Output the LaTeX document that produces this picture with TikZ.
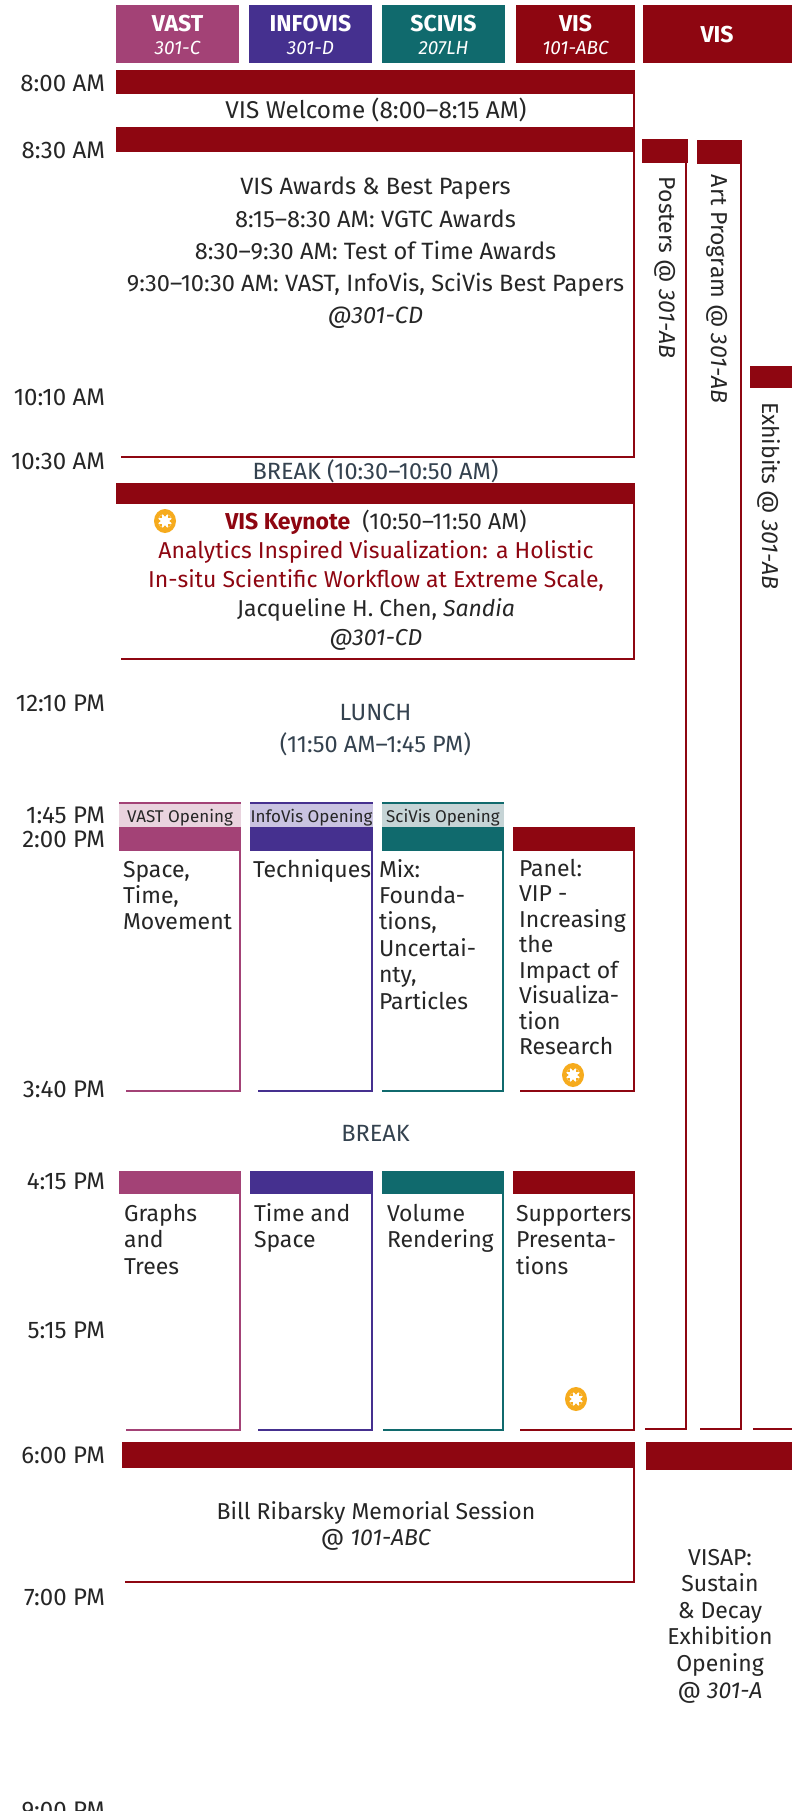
\documentclass[tikz,border=0pt]{standalone}
\usepackage{fontspec}
\setmainfont{Fira Sans}
\definecolor{vastc}{HTML}{A34276}
\definecolor{infoc}{HTML}{45308F}
\definecolor{scic}{HTML}{106A6D}
\definecolor{visc}{HTML}{8E0611}
\definecolor{vastl}{HTML}{E9D3DE}
\definecolor{infol}{HTML}{C9C3E1}
\definecolor{scil}{HTML}{C6D4D6}
\definecolor{txtc}{HTML}{262626}
\definecolor{brkc}{HTML}{34424F}
\definecolor{sunc}{HTML}{F6AB1D}
\begin{document}
\begin{tikzpicture}[x=1pt,y=-1pt,
  every node/.style={inner sep=0pt, outer sep=0pt, text=txtc},
  tlabel/.style={anchor=base east, font=\fontsize{24}{26}\selectfont},
  hdr/.style={anchor=base, text=white, font=\fontsize{23}{26}\selectfont\bfseries},
  hdrroom/.style={anchor=base, text=white, font=\fontsize{19}{22}\selectfont\itshape},
  body/.style={anchor=base, align=center, font=\fontsize{23.6}{32}\selectfont},
  sess/.style={anchor=base west, align=left, font=\fontsize{23}{26}\selectfont},
  brk/.style={anchor=base, align=center, text=brkc, font=\fontsize{23.5}{32}\selectfont},
  opening/.style={anchor=base, font=\fontsize{17}{20}\selectfont},
  vert/.style={anchor=west, rotate=-90, font=\fontsize{23}{26}\selectfont},
  edge/.style={line width=2.5pt},
  sun/.pic={
    \fill[sunc] (0,0) ellipse [x radius=11, y radius=12];
    \fill[white] (0,0) circle (7);
    \foreach \a in {0,45,...,315}
      \fill[sunc] (\a-17:7.2) -- (\a:4.3) -- (\a+17:7.2) -- cycle;
  }
]
\useasboundingbox (0,0) rectangle (792,1811);
\fill[white] (0,0) rectangle (792,1811);

% ---------- header ----------
\fill[vastc] (116,5) rectangle (239,63);
\fill[infoc] (249,5) rectangle (372,63);
\fill[scic]  (382,5) rectangle (505,63);
\fill[visc]  (516,5) rectangle (635,63);
\fill[visc]  (643,5) rectangle (792,63);
\node[hdr] (hvast) at (177.5,32) {VAST};
\node[hdrroom] (rvast) at (177.5,55) {301-C};
\node[hdr] (hinfo) at (310.5,32) {INFOVIS};
\node[hdrroom] (rinfo) at (310.5,55) {301-D};
\node[hdr] (hsci) at (443.5,32) {SCIVIS};
\node[hdrroom] (rsci) at (443.5,55) {207LH};
\node[hdr] (hvis) at (575.5,32) {VIS};
\node[hdrroom] (rvis) at (575.5,55) {101-ABC};
\node[hdr] (hvis2) at (717,43) {VIS};

% ---------- time labels ----------
\node[tlabel] (t800) at (105,92) {8:00 AM};
\node[tlabel] (t830) at (105,159) {8:30 AM};
\node[tlabel] (t1010) at (105,405) {10:10 AM};
\node[tlabel] (t1030) at (105,469) {10:30 AM};
\node[tlabel] (t1210) at (105,711) {12:10 PM};
\node[tlabel] (t145) at (105,823) {1:45 PM};
\node[tlabel] (t200) at (105,847) {2:00 PM};
\node[tlabel] (t340) at (105,1097) {3:40 PM};
\node[tlabel] (t415) at (105,1189) {4:15 PM};
\node[tlabel] (t515) at (105,1338) {5:15 PM};
\node[tlabel] (t600) at (105,1463) {6:00 PM};
\node[tlabel] (t700) at (105,1605) {7:00 PM};
\node[tlabel] (t900) at (105,1818) {9:00 PM};

% ---------- welcome ----------
\fill[visc] (116,70) rectangle (635,94);
\draw[edge, visc] (634,94) -- (634,127);
\node[body, font=\fontsize{24.3}{32}\selectfont] (welcome) at (376,119) {VIS Welcome (8:00–8:15 AM)};

% ---------- awards ----------
\fill[visc] (116,127) rectangle (635,152);
\draw[edge, visc] (634,152) -- (634,457) -- (121,457);
\node[body] (awards) at (375.5,323) {VIS Awards \& Best Papers\\
  8:15–8:30 AM: VGTC Awards\\
  8:30–9:30 AM: Test of Time Awards\\
  9:30–10:30 AM: VAST, InfoVis, SciVis Best Papers\\
  \textit{@301-CD}};

\node[brk] (break1) at (375.5,479) {BREAK (10:30–10:50 AM)};

% ---------- keynote ----------
\fill[visc] (116,483) rectangle (635,504);
\draw[edge, visc] (634,504) -- (634,659) -- (121,659);
\pic at (165,521) {sun};
\node[body, font=\fontsize{23}{29}\selectfont] (keynote) at (376,645)
  {\textcolor{visc}{\bfseries VIS Keynote}\hspace{6pt} (10:50–11:50 AM)\\
   \textcolor{visc}{Analytics Inspired Visualization: a Holistic}\\
   \textcolor{visc}{In-situ Scientific Workflow at Extreme Scale,}\\
   Jacqueline H. Chen, \textit{Sandia}\\
   \textit{@301-CD}};

% ---------- lunch ----------
\node[brk] (lunch) at (375.5,752) {LUNCH\\(11:50 AM–1:45 PM)};

% ---------- openings ----------
\fill[vastl] (119,803) rectangle (241,827);
\fill[infol] (250,803) rectangle (373,827);
\fill[scil]  (382,803) rectangle (504,827);
\draw[vastc, line width=2pt] (119,803) -- (241,803);
\draw[infoc, line width=2pt] (250,803) -- (373,803);
\draw[scic, line width=2pt]  (382,803) -- (504,803);
\node[opening] (ovast) at (180,822) {VAST Opening};
\node[opening] (oinfo) at (311.5,822) {InfoVis Opening};
\node[opening] (osci) at (443,822) {SciVis Opening};

% ---------- 2:00 sessions ----------
\fill[vastc] (119,827) rectangle (241,851);
\fill[infoc] (250,827) rectangle (373,851);
\fill[scic]  (382,827) rectangle (504,851);
\fill[visc]  (513,827) rectangle (635,851);
\draw[edge, vastc] (240,851) -- (240,1091) -- (126,1091);
\draw[edge, infoc] (372,851) -- (372,1091) -- (258,1091);
\draw[edge, scic]  (503,851) -- (503,1091) -- (382,1091);
\draw[edge, visc]  (634,851) -- (634,1091) -- (520,1091);
\node[sess] (s1) at (123,929) {Space,\\Time,\\Movement};
\node[sess] (s2) at (253,877) {Techniques};
\node[sess, font=\fontsize{23}{26.4}\selectfont] (s3) at (379,1009) {Mix:\\Founda-\\tions,\\Uncertai-\\nty,\\Particles};
\node[sess, font=\fontsize{23}{25.5}\selectfont] (s4) at (519,1054.5) {Panel:\\VIP -\\Increasing\\the\\Impact of\\Visualiza-\\tion\\Research};
\pic at (573,1075) {sun};

\node[brk] (break2) at (375.5,1141) {BREAK};

% ---------- 4:15 sessions ----------
\fill[vastc] (119,1171) rectangle (241,1194);
\fill[infoc] (250,1171) rectangle (373,1194);
\fill[scic]  (382,1171) rectangle (504,1194);
\fill[visc]  (513,1171) rectangle (635,1194);
\draw[edge, vastc] (240,1194) -- (240,1430) -- (126,1430);
\draw[edge, infoc] (372,1194) -- (372,1430) -- (258,1430);
\draw[edge, scic]  (503,1194) -- (503,1430) -- (383,1430);
\draw[edge, visc]  (634,1194) -- (634,1430) -- (520,1430);
\node[sess, font=\fontsize{23}{26.5}\selectfont] (s5) at (124,1274) {Graphs\\and\\Trees};
\node[sess, font=\fontsize{23}{26.5}\selectfont] (s6) at (254,1247.5) {Time and\\Space};
\node[sess, font=\fontsize{23}{26.5}\selectfont] (s7) at (387,1247.5) {Volume\\Rendering};
\node[sess, font=\fontsize{23}{26.5}\selectfont] (s8) at (516,1274) {Supporters\\Presenta-\\tions};
\pic at (576,1399) {sun};

% ---------- right columns ----------
\fill[visc] (642,139) rectangle (688,163);
\draw[edge, visc] (686,163) -- (686,1429) -- (645,1429);
\node[vert] (posters) at (665,177) {Posters @ \textit{301-AB}};
\fill[visc] (697,140) rectangle (742,164);
\draw[edge, visc] (741,164) -- (741,1429) -- (700,1429);
\node[vert] (art) at (717,175) {Art Program @ \textit{301-AB}};
\fill[visc] (750,366) rectangle (792,388);
\draw[edge, visc] (753,1429) -- (792,1429);
\node[vert] (exhibits) at (769,402) {Exhibits @ \textit{301-AB}};

% ---------- evening ----------
\fill[visc] (122,1442) rectangle (635,1468);
\draw[edge, visc] (634,1468) -- (634,1582) -- (125,1582);
\node[body, font=\fontsize{23}{26}\selectfont] (memorial) at (376,1545) {Bill Ribarsky Memorial Session\\@ \textit{101-ABC}};
\fill[visc] (646,1442) rectangle (792,1470);
\node[body, font=\fontsize{23}{26.6}\selectfont] (visap) at (720,1698) {VISAP:\\Sustain\\\& Decay\\Exhibition\\Opening\\@ \textit{301-A}};
\end{tikzpicture}
\end{document}
